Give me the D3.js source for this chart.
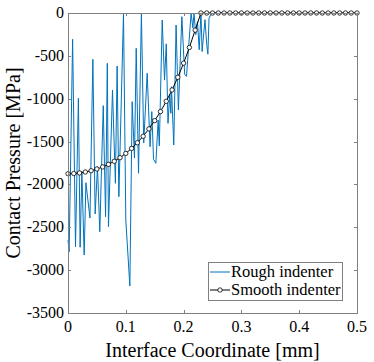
<!DOCTYPE html>
<html>
<head>
<meta charset="utf-8">
<script src="https://cdn.jsdelivr.net/npm/d3@7"></script>
<style>
  body { margin: 0; background: #fff; }
  text { font-family: "Liberation Serif", "DejaVu Serif", serif; fill: #000; }
</style>
</head>
<body>
<script>
  // rough indenter (x in mm, pressure in MPa)
  const roughX = [0.000, 0.002, 0.008, 0.013, 0.018, 0.021, 0.024, 0.028, 0.031, 0.038,
                  0.043, 0.047, 0.051, 0.055, 0.061, 0.065, 0.068, 0.070, 0.077, 0.082,
                  0.085, 0.088, 0.096, 0.100, 0.107, 0.111, 0.115, 0.118, 0.122, 0.127,
                  0.131, 0.137, 0.142, 0.145, 0.148, 0.152, 0.156, 0.158, 0.163, 0.167,
                  0.170, 0.173, 0.176, 0.178, 0.179, 0.183, 0.187, 0.191, 0.197, 0.201,
                  0.202, 0.205, 0.209, 0.213, 0.216, 0.218, 0.221, 0.224, 0.227, 0.230,
                  0.232, 0.237, 0.240, 0.242, 0.244, 0.247, 0.250, 0.500];
  const roughP = [-2650, -2785, -307, -2727, -995, -2733, -1850, -2823, -1980, -2392,
                  -540, -2345, -1793, -2552, -1081, -2377, -587, -2493, -898, -1987,
                  -618, -2143, 0, -2415, -3185, -1035, -1692, -412, -1870, 0,
                  -1517, -703, -1560, -1150, -1707, -1754, -1250, -1550, -82, -783,
                  -360, -1287, -950, -1170, -860, -1540, -140, -1132, -43, -607,
                  -720, -739, -370, 0, -175, 0, -253, -100, -428, 0,
                  -450, -78, -370, -480, -60, -20, 0, 0];

  // smooth indenter
  const smoothX = [0.00, 0.01, 0.02, 0.03, 0.04, 0.05, 0.06, 0.07, 0.08, 0.09,
                   0.10, 0.11, 0.12, 0.13, 0.14, 0.15, 0.16, 0.17, 0.18, 0.19,
                   0.20, 0.21, 0.22, 0.23, 0.24, 0.25, 0.26, 0.27, 0.28, 0.29,
                   0.30, 0.31, 0.32, 0.33, 0.34, 0.35, 0.36, 0.37, 0.38, 0.39,
                   0.40, 0.41, 0.42, 0.43, 0.44, 0.45, 0.46, 0.47, 0.48, 0.49, 0.50];
  const smoothP = [-1875, -1873, -1866, -1855, -1840, -1820, -1796, -1766, -1730, -1688,
                   -1638, -1580, -1514, -1438, -1352, -1256, -1150, -1030, -898, -750,
                   -585, -402, -200, 0, 0, 0, 0, 0, 0, 0,
                   0, 0, 0, 0, 0, 0, 0, 0, 0, 0,
                   0, 0, 0, 0, 0, 0, 0, 0, 0, 0, 0];

  const xTicks = [0, 0.1, 0.2, 0.3, 0.4, 0.5];
  const yTicks = [0, -500, -1000, -1500, -2000, -2500, -3000, -3500];
  const seriesNames = ["Rough indenter", "Smooth indenter"];

  const w = 374, h = 362;
  const margin = {top: 13, right: 17, bottom: 49, left: 68};
  const axisCol = "#808080";
  const blue = "#0072bd";

  const svg = d3.select("body").append("svg")
                .attr("width", w)
                .attr("height", h);

  const x = d3.scaleLinear().domain([0, 0.5]).range([margin.left, w - margin.right]);
  const y = d3.scaleLinear().domain([-3500, 0]).range([h - margin.bottom, margin.top]);

  const g = svg.append("g");

  // rough line
  const rough = roughX.map((d, i) => [d, roughP[i]]);
  g.append("path")
   .datum(rough)
   .attr("fill", "none")
   .attr("stroke", blue)
   .attr("stroke-width", 1)
   .attr("stroke-linejoin", "round")
   .attr("d", d3.line().x(d => x(d[0])).y(d => y(d[1])));

  // smooth line + circles
  const smooth = smoothX.map((d, i) => [d, smoothP[i]]);
  g.append("path")
   .datum(smooth)
   .attr("fill", "none")
   .attr("stroke", "#000")
   .attr("stroke-width", 1)
   .attr("d", d3.line().x(d => x(d[0])).y(d => y(d[1])));

  g.selectAll("circle.s")
   .data(smooth)
   .enter()
   .append("circle")
   .attr("class", "s")
   .attr("cx", d => x(d[0]))
   .attr("cy", d => y(d[1]))
   .attr("r", 2.2)
   .attr("fill", "#fff")
   .attr("stroke", "#000")
   .attr("stroke-width", 0.8);

  // box
  svg.append("rect")
     .attr("x", x(0) + 0.5)
     .attr("y", y(0) + 0.5)
     .attr("width", x(0.5) - x(0))
     .attr("height", y(-3500) - y(0))
     .attr("fill", "none")
     .attr("stroke", axisCol)
     .attr("stroke-width", 1);

  // ticks (inward, on all sides)
  const tl = 3;
  const tk = svg.append("g").attr("stroke", axisCol).attr("stroke-width", 1);
  xTicks.forEach(t => {
    const px = Math.round(x(t)) + 0.5;
    tk.append("line").attr("x1", px).attr("x2", px)
      .attr("y1", y(-3500)).attr("y2", y(-3500) - tl);
    tk.append("line").attr("x1", px).attr("x2", px)
      .attr("y1", y(0)).attr("y2", y(0) + tl);
  });
  yTicks.forEach(t => {
    const py = Math.round(y(t)) + 0.5;
    tk.append("line").attr("x1", x(0)).attr("x2", x(0) + tl)
      .attr("y1", py).attr("y2", py);
    tk.append("line").attr("x1", x(0.5)).attr("x2", x(0.5) - tl)
      .attr("y1", py).attr("y2", py);
  });

  // tick labels
  svg.selectAll("text.xt")
     .data(xTicks)
     .enter()
     .append("text")
     .attr("class", "xt")
     .attr("x", d => x(d))
     .attr("y", y(-3500) + 19)
     .attr("text-anchor", "middle")
     .attr("font-size", "16px")
     .text(d => d === 0 ? "0" : d3.format(".1f")(d));

  svg.selectAll("text.yt")
     .data(yTicks)
     .enter()
     .append("text")
     .attr("class", "yt")
     .attr("x", x(0) - 4)
     .attr("y", d => y(d) + 5)
     .attr("text-anchor", "end")
     .attr("font-size", "16px")
     .text(d => d === 0 ? "0" : "-" + Math.abs(d));

  // axis titles
  svg.append("text")
     .attr("x", (x(0) + x(0.5)) / 2)
     .attr("y", 357)
     .attr("text-anchor", "middle")
     .attr("font-size", "20px")
     .text("Interface Coordinate [mm]");

  svg.append("text")
     .attr("transform", "translate(20," + ((y(0) + y(-3500)) / 2) + ") rotate(-90)")
     .attr("text-anchor", "middle")
     .attr("font-size", "20px")
     .text("Contact Pressure [MPa]");

  // legend
  const lg = svg.append("g");
  lg.append("rect")
    .attr("x", 208.5).attr("y", 262.5)
    .attr("width", 134).attr("height", 38)
    .attr("fill", "#fff")
    .attr("stroke", axisCol)
    .attr("stroke-width", 1);

  const rows = [272, 290];
  lg.append("line")
    .attr("x1", 210).attr("x2", 230)
    .attr("y1", rows[0]).attr("y2", rows[0])
    .attr("stroke", blue).attr("stroke-width", 1);
  lg.append("line")
    .attr("x1", 210).attr("x2", 230)
    .attr("y1", rows[1]).attr("y2", rows[1])
    .attr("stroke", "#000").attr("stroke-width", 1);
  lg.append("circle")
    .attr("cx", 220).attr("cy", rows[1]).attr("r", 2.2)
    .attr("fill", "#fff").attr("stroke", "#000").attr("stroke-width", 0.8);

  lg.selectAll("text")
    .data(seriesNames)
    .enter()
    .append("text")
    .attr("x", 231)
    .attr("y", (d, i) => rows[i] + 5)
    .attr("font-size", "16.5px")
    .text(d => d);
</script>
</body>
</html>
